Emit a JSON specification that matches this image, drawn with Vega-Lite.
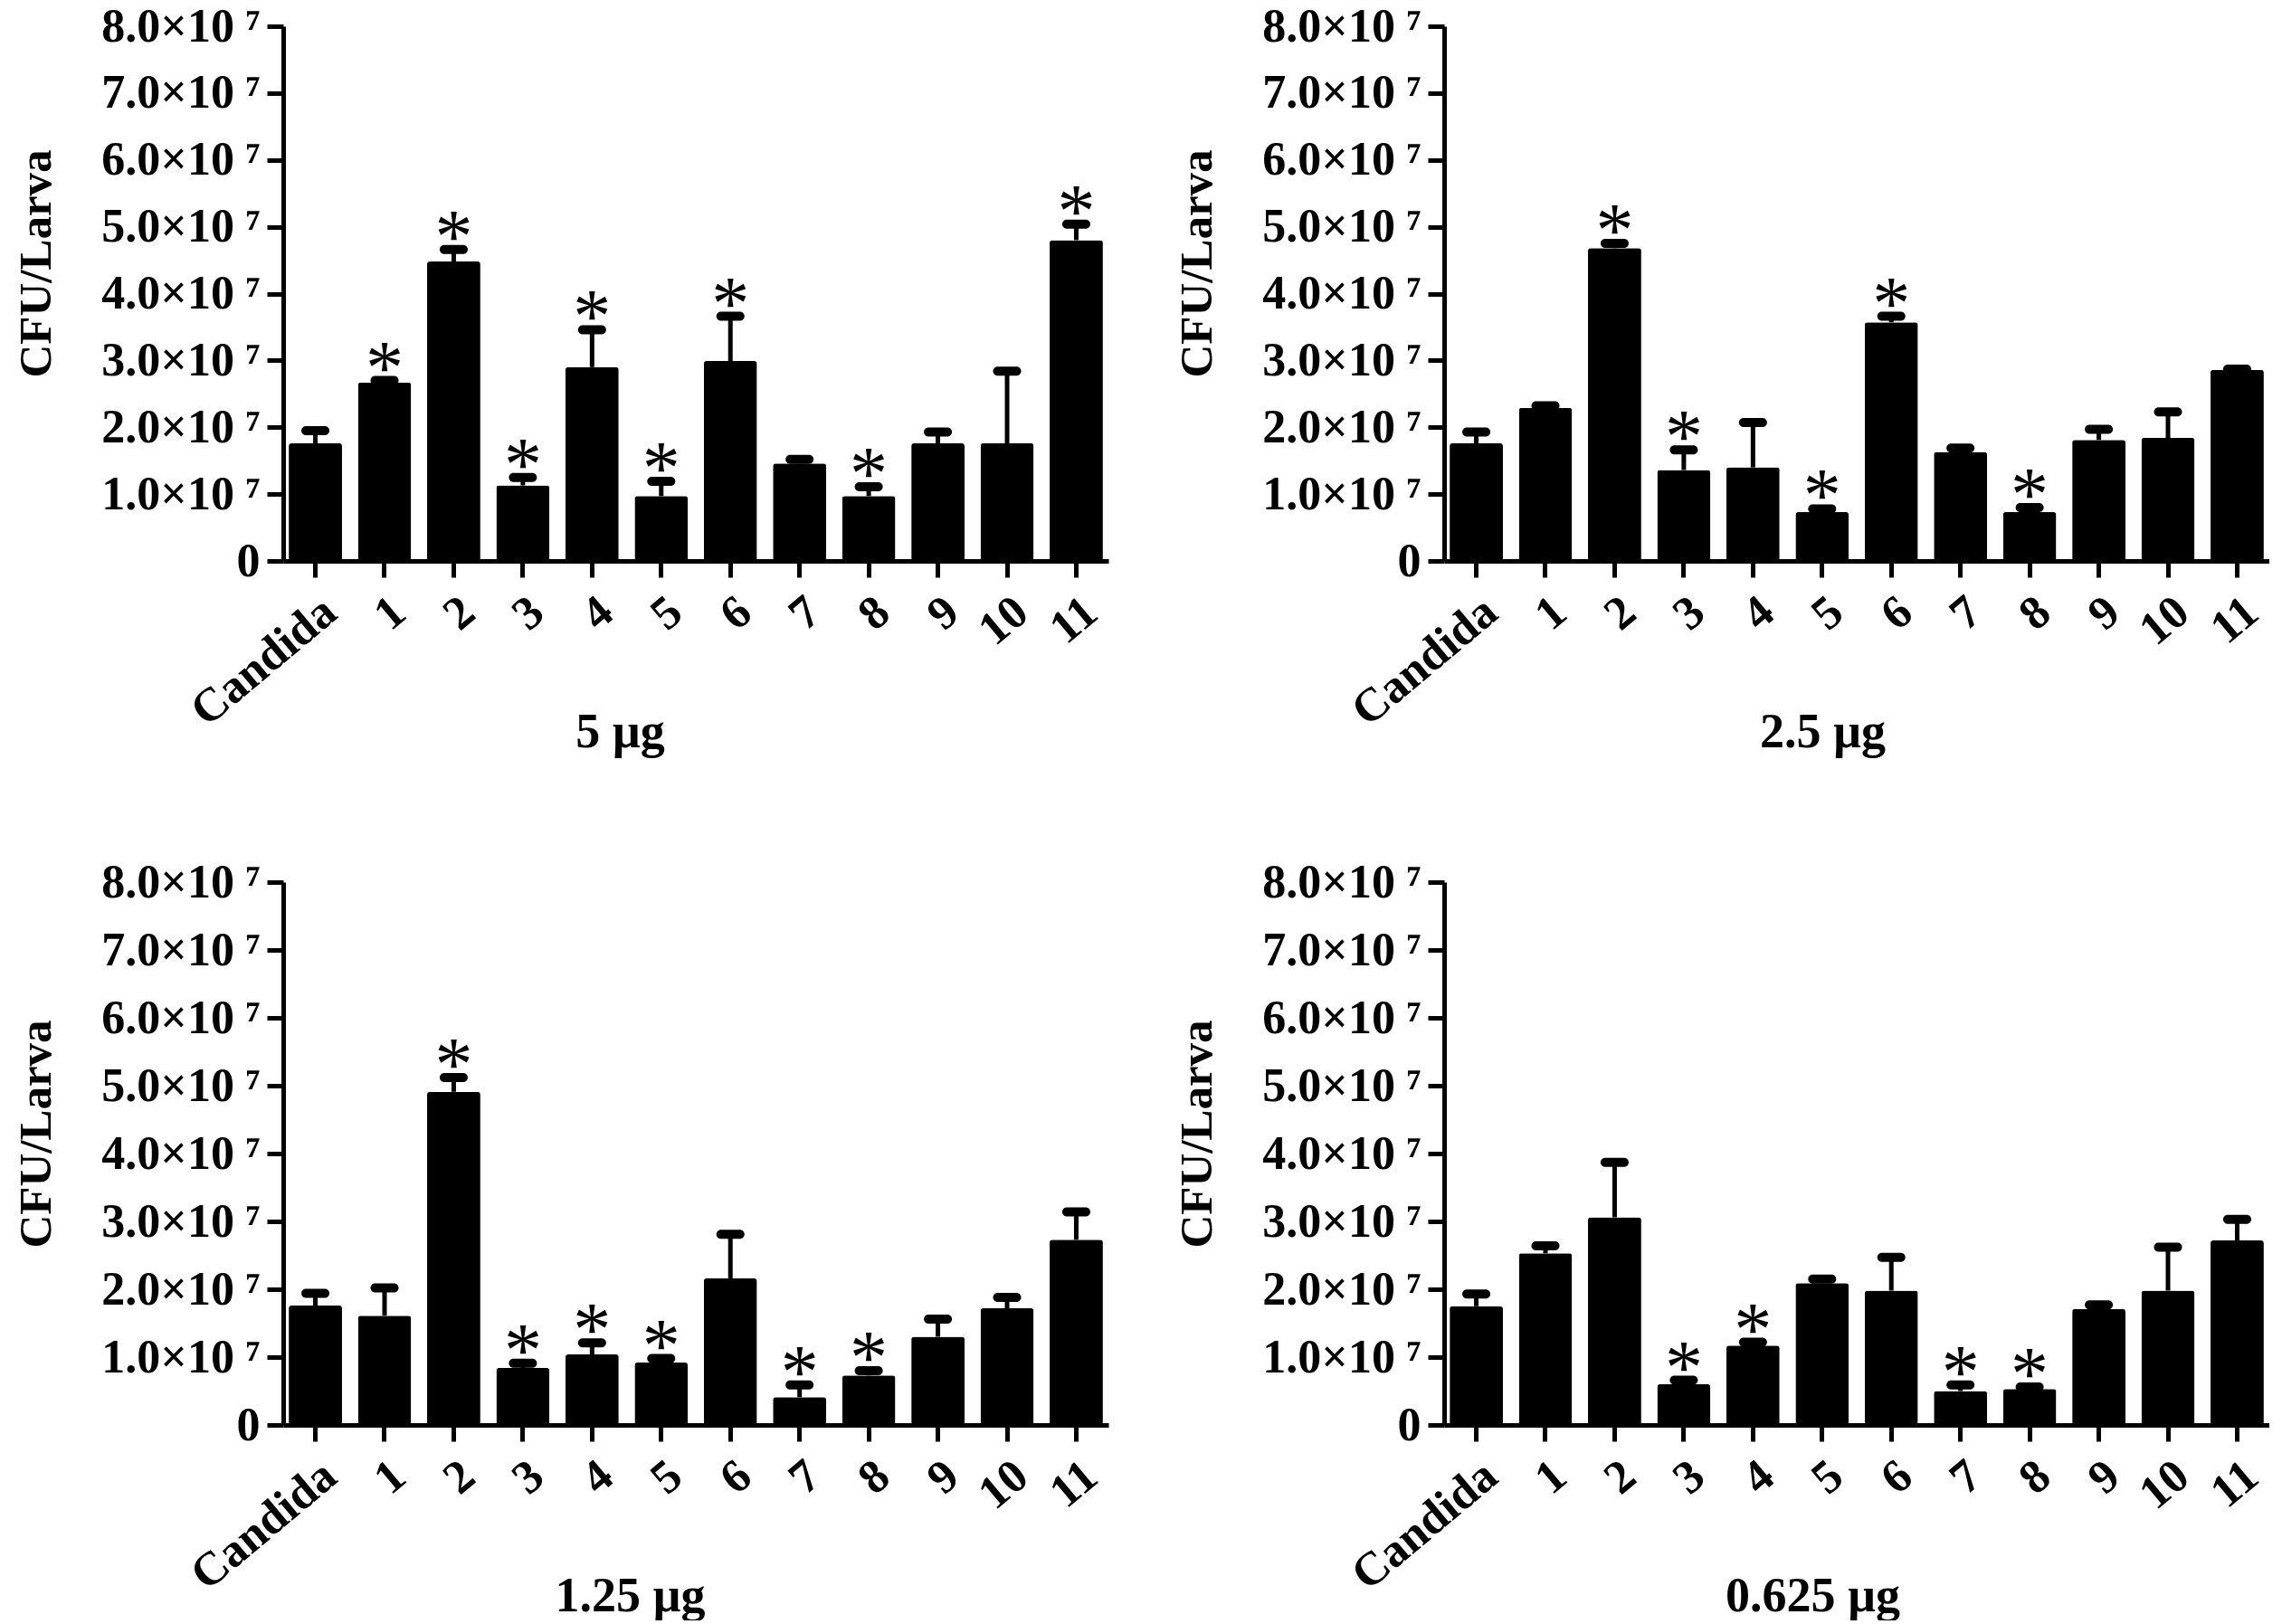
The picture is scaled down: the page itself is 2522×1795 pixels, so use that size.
{
  "$schema": "https://vega.github.io/schema/vega-lite/v6.json",
  "description": "CFU per larva for Candida and compounds 1-11 at four doses",
  "background": "white",
  "padding": {"left": 14, "top": 3, "right": 0, "bottom": 0},
  "config": {
    "view": {"stroke": null},
    "font": "Liberation Serif",
    "axis": {
      "grid": false,
      "domainColor": "black",
      "domainWidth": 5,
      "tickColor": "black",
      "tickWidth": 5,
      "tickSize": 18,
      "labelColor": "black",
      "labelFont": "Liberation Serif",
      "labelFontSize": 52,
      "labelFontWeight": "bold",
      "labelLimit": 400,
      "titleColor": "black",
      "titleFont": "Liberation Serif",
      "titleFontSize": 51,
      "titleFontWeight": "bold"
    },
    "axisX": {"labelAngle": -40, "labelPadding": 12, "titleBaseline": "alphabetic", "titleY": 205, "titleFontSize": 54},
    "axisY": {"labelPadding": 8, "titlePadding": 47},
    "bar": {"color": "black", "cornerRadius": 3},
    "rule": {"color": "black"},
    "tick": {"color": "black", "opacity": 1},
    "text": {"color": "black"}
  },
  "datasets": {
    "cfu": [
      {"dose": "5 µg", "group": "Candida", "value": 17600000, "upper": 19500000, "sig": false},
      {"dose": "5 µg", "group": "1", "value": 26700000, "upper": 27000000, "sig": true},
      {"dose": "5 µg", "group": "2", "value": 44800000, "upper": 46600000, "sig": true},
      {"dose": "5 µg", "group": "3", "value": 11300000, "upper": 12500000, "sig": true},
      {"dose": "5 µg", "group": "4", "value": 29000000, "upper": 34600000, "sig": true},
      {"dose": "5 µg", "group": "5", "value": 9700000, "upper": 11900000, "sig": true},
      {"dose": "5 µg", "group": "6", "value": 29900000, "upper": 36600000, "sig": true},
      {"dose": "5 µg", "group": "7", "value": 14600000, "upper": 15200000, "sig": false},
      {"dose": "5 µg", "group": "8", "value": 9700000, "upper": 11100000, "sig": true},
      {"dose": "5 µg", "group": "9", "value": 17600000, "upper": 19300000, "sig": false},
      {"dose": "5 µg", "group": "10", "value": 17600000, "upper": 28400000, "sig": false},
      {"dose": "5 µg", "group": "11", "value": 48000000, "upper": 50400000, "sig": true},

      {"dose": "2.5 µg", "group": "Candida", "value": 17600000, "upper": 19300000, "sig": false},
      {"dose": "2.5 µg", "group": "1", "value": 22900000, "upper": 23200000, "sig": false},
      {"dose": "2.5 µg", "group": "2", "value": 46800000, "upper": 47500000, "sig": true},
      {"dose": "2.5 µg", "group": "3", "value": 13600000, "upper": 16600000, "sig": true},
      {"dose": "2.5 µg", "group": "4", "value": 14000000, "upper": 20700000, "sig": false},
      {"dose": "2.5 µg", "group": "5", "value": 7300000, "upper": 7800000, "sig": true},
      {"dose": "2.5 µg", "group": "6", "value": 35700000, "upper": 36600000, "sig": true},
      {"dose": "2.5 µg", "group": "7", "value": 16300000, "upper": 16900000, "sig": false},
      {"dose": "2.5 µg", "group": "8", "value": 7300000, "upper": 8000000, "sig": true},
      {"dose": "2.5 µg", "group": "9", "value": 18100000, "upper": 19700000, "sig": false},
      {"dose": "2.5 µg", "group": "10", "value": 18400000, "upper": 22300000, "sig": false},
      {"dose": "2.5 µg", "group": "11", "value": 28600000, "upper": 28700000, "sig": false},

      {"dose": "1.25 µg", "group": "Candida", "value": 17600000, "upper": 19400000, "sig": false},
      {"dose": "1.25 µg", "group": "1", "value": 16100000, "upper": 20200000, "sig": false},
      {"dose": "1.25 µg", "group": "2", "value": 49100000, "upper": 51200000, "sig": true},
      {"dose": "1.25 µg", "group": "3", "value": 8400000, "upper": 9100000, "sig": true},
      {"dose": "1.25 µg", "group": "4", "value": 10400000, "upper": 12100000, "sig": true},
      {"dose": "1.25 µg", "group": "5", "value": 9200000, "upper": 9800000, "sig": true},
      {"dose": "1.25 µg", "group": "6", "value": 21600000, "upper": 28100000, "sig": false},
      {"dose": "1.25 µg", "group": "7", "value": 4100000, "upper": 5900000, "sig": true},
      {"dose": "1.25 µg", "group": "8", "value": 7300000, "upper": 8000000, "sig": true},
      {"dose": "1.25 µg", "group": "9", "value": 13000000, "upper": 15600000, "sig": false},
      {"dose": "1.25 µg", "group": "10", "value": 17200000, "upper": 18800000, "sig": false},
      {"dose": "1.25 µg", "group": "11", "value": 27300000, "upper": 31400000, "sig": false},

      {"dose": "0.625 µg", "group": "Candida", "value": 17500000, "upper": 19300000, "sig": false},
      {"dose": "0.625 µg", "group": "1", "value": 25300000, "upper": 26400000, "sig": false},
      {"dose": "0.625 µg", "group": "2", "value": 30600000, "upper": 38700000, "sig": false},
      {"dose": "0.625 µg", "group": "3", "value": 6000000, "upper": 6600000, "sig": true},
      {"dose": "0.625 µg", "group": "4", "value": 11700000, "upper": 12200000, "sig": true},
      {"dose": "0.625 µg", "group": "5", "value": 20900000, "upper": 21500000, "sig": false},
      {"dose": "0.625 µg", "group": "6", "value": 19800000, "upper": 24700000, "sig": false},
      {"dose": "0.625 µg", "group": "7", "value": 5000000, "upper": 5900000, "sig": true},
      {"dose": "0.625 µg", "group": "8", "value": 5300000, "upper": 5600000, "sig": true},
      {"dose": "0.625 µg", "group": "9", "value": 17100000, "upper": 17700000, "sig": false},
      {"dose": "0.625 µg", "group": "10", "value": 19800000, "upper": 26200000, "sig": false},
      {"dose": "0.625 µg", "group": "11", "value": 27200000, "upper": 30300000, "sig": false}
    ]
  },
  "columns": 2,
  "spacing": {"column": 72, "row": 113},
  "concat": [
    {
      "width": 912,
      "height": 591,
      "data": {"name": "cfu"},
      "transform": [{"filter": "datum.dose == '5 µg'"}],
      "encoding": {
        "x": {
          "field": "group",
          "type": "nominal",
          "sort": ["Candida", "1", "2", "3", "4", "5", "6", "7", "8", "9", "10", "11"],
          "scale": {"paddingInner": 0.23, "paddingOuter": 0.08},
          "title": "5 µg",
          "axis": {"titleX": 372}
        },
        "y": {
          "field": "value",
          "type": "quantitative",
          "scale": {"domain": [0, 80000000]},
          "title": "CFU/Larva",
          "axis": {
            "titleY": 262,
            "values": [0, 10000000, 20000000, 30000000, 40000000, 50000000, 60000000, 70000000, 80000000],
            "labelExpr": "datum.value == 0 ? '0' : format(datum.value / 10000000, '.1f') + '×10 ⁷'"
          }
        }
      },
      "layer": [
        {"mark": {"type": "bar"}},
        {"mark": {"type": "rule", "strokeWidth": 5}, "encoding": {"y2": {"field": "upper"}}},
        {"mark": {"type": "tick", "size": 31, "thickness": 10, "cornerRadius": 5}, "encoding": {"y": {"field": "upper", "type": "quantitative"}}},
        {
          "transform": [{"filter": "datum.sig"}],
          "mark": {"type": "text", "text": "*", "fontSize": 84, "fontWeight": "normal", "baseline": "alphabetic", "dy": 14},
          "encoding": {"y": {"field": "upper", "type": "quantitative"}}
        }
      ]
    },
    {
      "width": 912,
      "height": 591,
      "data": {"name": "cfu"},
      "transform": [{"filter": "datum.dose == '2.5 µg'"}],
      "encoding": {
        "x": {
          "field": "group",
          "type": "nominal",
          "sort": ["Candida", "1", "2", "3", "4", "5", "6", "7", "8", "9", "10", "11"],
          "scale": {"paddingInner": 0.23, "paddingOuter": 0.08},
          "title": "2.5 µg",
          "axis": {"titleX": 418}
        },
        "y": {
          "field": "value",
          "type": "quantitative",
          "scale": {"domain": [0, 80000000]},
          "title": "CFU/Larva",
          "axis": {
            "titleY": 262,
            "values": [0, 10000000, 20000000, 30000000, 40000000, 50000000, 60000000, 70000000, 80000000],
            "labelExpr": "datum.value == 0 ? '0' : format(datum.value / 10000000, '.1f') + '×10 ⁷'"
          }
        }
      },
      "layer": [
        {"mark": {"type": "bar"}},
        {"mark": {"type": "rule", "strokeWidth": 5}, "encoding": {"y2": {"field": "upper"}}},
        {"mark": {"type": "tick", "size": 31, "thickness": 10, "cornerRadius": 5}, "encoding": {"y": {"field": "upper", "type": "quantitative"}}},
        {
          "transform": [{"filter": "datum.sig"}],
          "mark": {"type": "text", "text": "*", "fontSize": 84, "fontWeight": "normal", "baseline": "alphabetic", "dy": 14},
          "encoding": {"y": {"field": "upper", "type": "quantitative"}}
        }
      ]
    },
    {
      "width": 912,
      "height": 600,
      "data": {"name": "cfu"},
      "transform": [{"filter": "datum.dose == '1.25 µg'"}],
      "encoding": {
        "x": {
          "field": "group",
          "type": "nominal",
          "sort": ["Candida", "1", "2", "3", "4", "5", "6", "7", "8", "9", "10", "11"],
          "scale": {"paddingInner": 0.23, "paddingOuter": 0.08},
          "title": "1.25 µg",
          "axis": {"titleX": 383}
        },
        "y": {
          "field": "value",
          "type": "quantitative",
          "scale": {"domain": [0, 80000000]},
          "title": "CFU/Larva",
          "axis": {
            "titleY": 278,
            "values": [0, 10000000, 20000000, 30000000, 40000000, 50000000, 60000000, 70000000, 80000000],
            "labelExpr": "datum.value == 0 ? '0' : format(datum.value / 10000000, '.1f') + '×10 ⁷'"
          }
        }
      },
      "layer": [
        {"mark": {"type": "bar"}},
        {"mark": {"type": "rule", "strokeWidth": 5}, "encoding": {"y2": {"field": "upper"}}},
        {"mark": {"type": "tick", "size": 31, "thickness": 10, "cornerRadius": 5}, "encoding": {"y": {"field": "upper", "type": "quantitative"}}},
        {
          "transform": [{"filter": "datum.sig"}],
          "mark": {"type": "text", "text": "*", "fontSize": 84, "fontWeight": "normal", "baseline": "alphabetic", "dy": 14},
          "encoding": {"y": {"field": "upper", "type": "quantitative"}}
        }
      ]
    },
    {
      "width": 912,
      "height": 600,
      "data": {"name": "cfu"},
      "transform": [{"filter": "datum.dose == '0.625 µg'"}],
      "encoding": {
        "x": {
          "field": "group",
          "type": "nominal",
          "sort": ["Candida", "1", "2", "3", "4", "5", "6", "7", "8", "9", "10", "11"],
          "scale": {"paddingInner": 0.23, "paddingOuter": 0.08},
          "title": "0.625 µg",
          "axis": {"titleX": 407}
        },
        "y": {
          "field": "value",
          "type": "quantitative",
          "scale": {"domain": [0, 80000000]},
          "title": "CFU/Larva",
          "axis": {
            "titleY": 278,
            "values": [0, 10000000, 20000000, 30000000, 40000000, 50000000, 60000000, 70000000, 80000000],
            "labelExpr": "datum.value == 0 ? '0' : format(datum.value / 10000000, '.1f') + '×10 ⁷'"
          }
        }
      },
      "layer": [
        {"mark": {"type": "bar"}},
        {"mark": {"type": "rule", "strokeWidth": 5}, "encoding": {"y2": {"field": "upper"}}},
        {"mark": {"type": "tick", "size": 31, "thickness": 10, "cornerRadius": 5}, "encoding": {"y": {"field": "upper", "type": "quantitative"}}},
        {
          "transform": [{"filter": "datum.sig"}],
          "mark": {"type": "text", "text": "*", "fontSize": 84, "fontWeight": "normal", "baseline": "alphabetic", "dy": 14},
          "encoding": {"y": {"field": "upper", "type": "quantitative"}}
        }
      ]
    }
  ]
}
